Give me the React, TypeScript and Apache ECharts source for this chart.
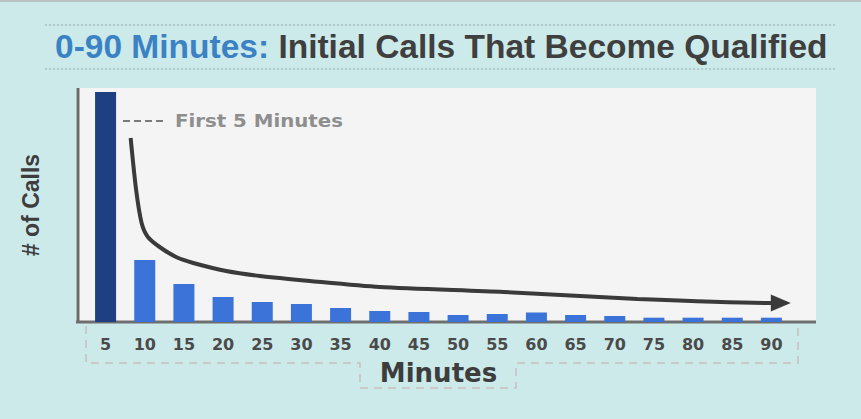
import { useEffect, useRef } from "react";
import * as echarts from "echarts";

// minutes since the first contact
const minutes = ["5", "10", "15", "20", "25", "30", "35", "40", "45", "50", "55", "60", "65", "70", "75", "80", "85", "90"];
// relative number of calls that became qualified (first bar is the first 5 minutes)
const firstFive = [230, "-", "-", "-", "-", "-", "-", "-", "-", "-", "-", "-", "-", "-", "-", "-", "-", "-"];
const laterCalls = ["-", 62, 38, 25, 20, 18, 14, 11, 10, 7, 8, 9.5, 7, 6, 4.3, 4.3, 4.3, 4.3];
// hand-drawn decay arrow, [minute, calls]
const trendX = [8.2, 8.9, 9.6, 10.4, 11.9, 14.0, 16.2, 20.4, 24.7, 31.1, 40.0, 55.8, 72.9, 89.9, 91.2];
const trendY = [184, 132, 99, 85, 75, 65, 59, 51, 46, 41, 35, 30, 23, 19, 19];

const navy = "#1e3f82";
const blue = "#3b73d9";
const ink = "#3d3d3d";

export default function App() {
  const chartRef = useRef(null);

  useEffect(() => {
    document.body.style.margin = "0";
    const chart = echarts.init(chartRef.current, null, { renderer: "svg" });

    const trend = trendX.map((x, i) =>
      i === trendX.length - 1
        ? { value: [x, trendY[i]], symbol: "triangle", symbolSize: [17, 20], symbolRotate: -90 }
        : [x, trendY[i]]
    );

    const options = {
      animation: false,
      backgroundColor: "#cdeaeb",
      grid: { left: 86, right: 70, top: 88, bottom: 97 },
      xAxis: [
        {
          type: "category",
          data: minutes,
          axisLine: { show: false },
          axisTick: { show: false },
          axisLabel: {
            margin: 14,
            color: "#4a4a4a",
            fontFamily: "DejaVu Sans",
            fontWeight: "bold",
            fontSize: 16,
          },
          name: "Minutes",
          nameLocation: "middle",
          nameGap: 38,
          nameTextStyle: { color: ink, fontFamily: "DejaVu Sans", fontWeight: "bold", fontSize: 26 },
        },
        { type: "value", min: 2.5, max: 92.5, show: false },
      ],
      yAxis: {
        type: "value",
        min: 0,
        max: 234,
        axisLine: { show: false },
        axisTick: { show: false },
        axisLabel: { show: false },
        splitLine: { show: false },
        name: "# of Calls",
        nameLocation: "middle",
        nameRotate: 90,
        nameGap: 44,
        nameTextStyle: { color: ink, fontFamily: "Liberation Sans", fontWeight: "bold", fontSize: 23 },
      },
      series: [
        {
          name: "First 5 Minutes",
          type: "bar",
          stack: "calls",
          barWidth: 21,
          data: firstFive,
          itemStyle: { color: navy },
        },
        {
          name: "After 5 Minutes",
          type: "bar",
          stack: "calls",
          barWidth: 21,
          data: laterCalls,
          itemStyle: { color: blue },
        },
        {
          name: "Trend",
          type: "line",
          xAxisIndex: 1,
          data: trend,
          smooth: 0.25,
          symbol: "none",
          lineStyle: { color: "#3a3a3a", width: 4 },
          itemStyle: { color: "#3a3a3a" },
          z: 5,
        },
      ],
      graphic: [
        { type: "rect", z: -1, shape: { x: 0, y: 0, width: 861, height: 2 }, style: { fill: "#b9c3c4" } },
        { type: "rect", z: -1, shape: { x: 76, y: 88, width: 740, height: 234 }, style: { fill: "#f4f4f4" } },
        { type: "line", shape: { x1: 78, y1: 88, x2: 78, y2: 323 }, style: { stroke: "#6a6a6a", lineWidth: 3 } },
        { type: "line", shape: { x1: 76, y1: 322, x2: 816, y2: 322 }, style: { stroke: "#6e6e6e", lineWidth: 3 } },
        {
          type: "line",
          shape: { x1: 45, y1: 25, x2: 835, y2: 25 },
          style: { stroke: "#a7bec1", lineWidth: 1.5, lineDash: [2, 2] },
        },
        {
          type: "line",
          shape: { x1: 45, y1: 69, x2: 835, y2: 69 },
          style: { stroke: "#a7bec1", lineWidth: 1.5, lineDash: [2, 2] },
        },
        {
          type: "text",
          x: 55,
          y: 46,
          style: {
            text: "{a|0-90 Minutes:} {b|Initial Calls That Become Qualified}",
            verticalAlign: "middle",
            rich: {
              a: { fill: "#3b82c4", font: "bold 33.5px 'Liberation Sans'" },
              b: { fill: "#3f3f3f", font: "bold 33.5px 'Liberation Sans'" },
            },
            font: "bold 33.5px 'Liberation Sans'",
          },
        },
        {
          type: "line",
          shape: { x1: 123, y1: 121, x2: 163, y2: 121 },
          style: { stroke: "#7a7a7a", lineWidth: 2, lineDash: [7, 4] },
        },
        {
          type: "text",
          x: 175,
          y: 121,
          scaleX: 1.13,
          style: {
            text: "First 5 Minutes",
            fill: "#8e8e8e",
            font: "bold 17.5px 'DejaVu Sans'",
            verticalAlign: "middle",
          },
        },
        {
          type: "polyline",
          shape: {
            points: [
              [86, 326],
              [86, 363],
              [360, 363],
              [360, 388],
              [516, 388],
              [516, 363],
              [798, 363],
              [798, 326],
            ],
          },
          style: { stroke: "#c9bfc0", fill: null, lineWidth: 1.5, lineDash: [8, 6] },
        },
      ],
    };

    chart.setOption(options);

    return () => {
      chart.dispose();
    };
  }, []);

  return <div ref={chartRef} style={{ width: "861px", height: "419px" }} />;
}
